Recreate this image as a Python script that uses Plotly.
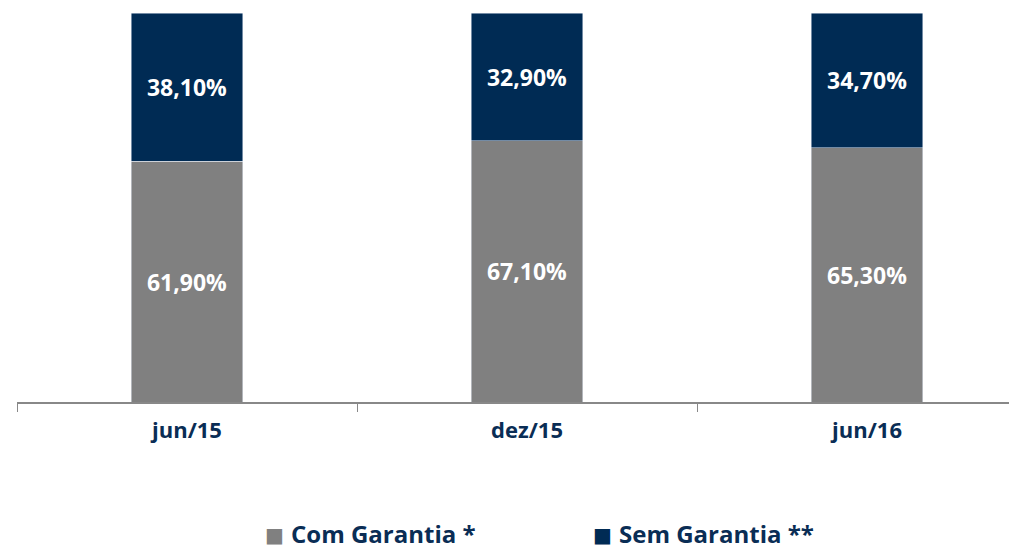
import plotly.graph_objects as go

periodos = ["jun/15", "dez/15", "jun/16"]
com_garantia = [61.9, 67.1, 65.3]
sem_garantia = [38.1, 32.9, 34.7]
series_nomes = ["Com Garantia *", "Sem Garantia **"]
cores = ["#808080", "#002B54"]
azul_texto = "#0A2D55"


def fmt(v):
    return "{:.2f}%".format(v).replace(".", ",")


fig = go.Figure()
for nome, valores, cor in zip(series_nomes, [com_garantia, sem_garantia], cores):
    fig.add_trace(go.Bar(
        x=periodos, y=valores, name=nome, marker_color=cor,
        text=[fmt(v) for v in valores],
        textposition="inside", insidetextanchor="middle",
        textfont=dict(color="white", size=23, family="Open Sans"),
        texttemplate="<b>%{text}</b>",
    ))

# legend drawn as text so the swatches sit close to the labels
leg_x = [0.272, 0.600]
leg_y = -0.338
for nome, cor, lx in zip(series_nomes, cores, leg_x):
    fig.add_annotation(
        xref="paper", yref="paper", x=lx - 0.003, y=leg_y - 0.004, xanchor="right", yanchor="middle",
        showarrow=False, text="■", font=dict(size=20, color=cor, family="DejaVu Sans"),
    )
    fig.add_annotation(
        xref="paper", yref="paper", x=lx, y=leg_y, xanchor="left", yanchor="middle",
        showarrow=False, text="<b>%s</b>" % nome,
        font=dict(size=24, color=azul_texto, family="Open Sans"),
    )

# page body has an 8px margin, so the figure is sized to fit the window
fig.update_layout(
    barmode="stack", bargap=0.673,
    width=1009, height=543,
    margin=dict(l=9, r=0, t=5, b=149),
    plot_bgcolor="white", paper_bgcolor="white",
    font=dict(family="Open Sans", color=azul_texto),
    showlegend=False,
    uniformtext=dict(minsize=10, mode="show"),
)
fig.update_xaxes(
    range=[-0.5, 2.441], tickson="boundaries", ticks="outside", ticklen=8,
    tickcolor="#888888", showline=True, linecolor="#888888", linewidth=1.5,
    tickvals=periodos, ticktext=["<b>%s</b>" % p for p in periodos],
    tickfont=dict(size=22, color=azul_texto, family="Open Sans"),
    ticklabelstandoff=8, automargin=False,
)
fig.update_yaxes(range=[0, 100], visible=False, showgrid=False, automargin=False)

fig.write_html("out.html")
